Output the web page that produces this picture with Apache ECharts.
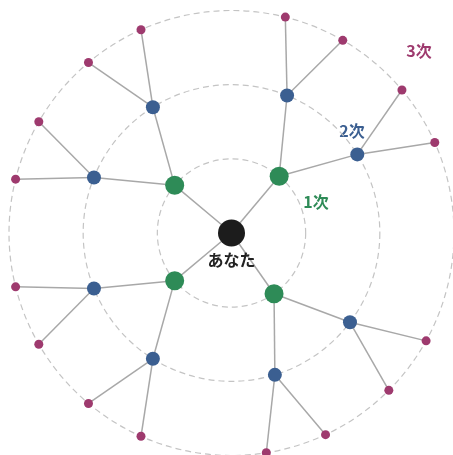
<!DOCTYPE html>
<html>
<head>
<meta charset="utf-8">
<script src="https://cdn.jsdelivr.net/npm/echarts@6/dist/echarts.min.js"></script>
<style>
  html, body { margin: 0; padding: 0; background: #fff; }
  #main { width: 453px; height: 455px; }
</style>
</head>
<body>
<div id="main"></div>
<script>
// ring labels (1st / 2nd / 3rd degree)
var ringNames = ['1次', '2次', '3次'];
var ringColors = ['#2e8b57', '#3b5f91', '#9e3a6e'];

// nodes: level = ring index (0 = center), angle = degrees from top, clockwise
var nodeLevels = [0,
  1, 1, 1, 1,
  2, 2, 2, 2, 2, 2, 2, 2,
  3, 3, 3, 3, 3, 3, 3, 3, 3, 3, 3, 3, 3, 3, 3, 3];
var nodeAngles = [0,
  310, 40, 230, 145,
  328, 292, 22, 58, 248, 212, 127, 163,
  336, 320, 300, 284, 14, 30, 50, 66, 256, 240, 220, 204, 119, 135, 155, 171];
// parent of each node (-1 = none)
var nodeParents = [-1,
  0, 0, 0, 0,
  1, 1, 2, 2, 3, 3, 4, 4,
  5, 5, 6, 6, 7, 7, 8, 8, 9, 9, 10, 10, 11, 11, 12, 12];

var centerName = 'あなた';
var sizes = [27, 19, 14, 9];
var colors = ['#1c1c1c', '#2e8b57', '#3b5f91', '#9e3a6e'];

var chart = echarts.init(document.getElementById('main'));

var nodes = nodeLevels.map(function (lv, i) {
  var n = {
    name: i === 0 ? centerName : 'n' + i,
    value: [lv, nodeAngles[i]],
    symbolSize: sizes[lv],
    itemStyle: { color: colors[lv] }
  };
  if (i === 0) {
    n.label = {
      show: true, position: 'bottom', distance: 5,
      formatter: centerName,
      fontSize: 16, fontWeight: 'bold', color: '#222',
      fontFamily: '"Noto Sans CJK JP", sans-serif'
    };
  }
  return n;
});
var links = [];
nodeParents.forEach(function (p, i) {
  if (p >= 0) links.push({ source: p, target: i });
});

var ringLabelPos = [[316, 202], [352, 131], [419, 51]];

chart.setOption({
  animation: false,
  polar: { center: [231.5, 233], radius: 222.5 },
  angleAxis: {
    type: 'value', min: 0, max: 360, startAngle: 90, clockwise: true,
    axisLine: { show: false }, axisTick: { show: false },
    axisLabel: { show: false }, splitLine: { show: false }
  },
  radiusAxis: {
    type: 'value', min: 0, max: 3, interval: 1,
    axisLine: { show: false }, axisTick: { show: false },
    axisLabel: { show: false },
    splitLine: { show: true, lineStyle: { color: '#c4c4c4', type: [6, 4], width: 1.2 } }
  },
  graphic: ringNames.map(function (t, i) {
    return {
      type: 'text', x: ringLabelPos[i][0], y: ringLabelPos[i][1],
      style: {
        text: t, fill: ringColors[i], fontSize: 16, fontWeight: 'bold',
        fontFamily: '"Noto Sans CJK JP", sans-serif',
        align: 'center', verticalAlign: 'middle'
      }
    };
  }),
  series: [{
    type: 'graph',
    coordinateSystem: 'polar',
    data: nodes,
    links: links,
    z: 3,
    lineStyle: { color: '#a8a8a8', width: 1.5, opacity: 1 },
    label: { show: false }
  }]
});
</script>
</body>
</html>
